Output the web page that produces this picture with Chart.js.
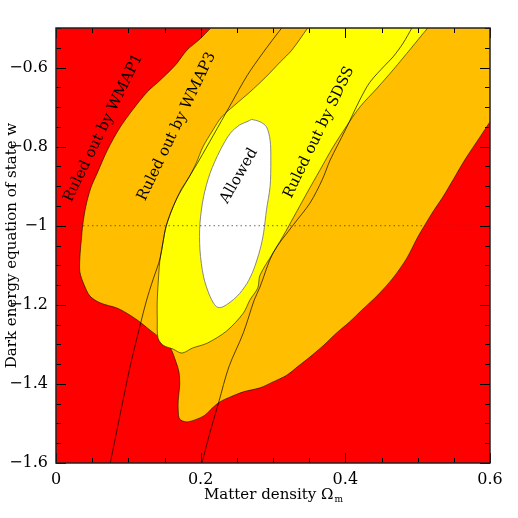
<!DOCTYPE html>
<html><head><meta charset="utf-8">
<script src="https://cdn.jsdelivr.net/npm/chart.js@4.4.1/dist/chart.umd.min.js"></script>
<style>html,body{margin:0;padding:0;background:#fff;}canvas{display:block;}</style>
</head><body>
<canvas id="c" width="518" height="518"></canvas>
<script>
// Axis ranges and tick labels
const xRange = [0, 0.6];
const yRange = [-1.6, -0.5];
const xTickLabels = ['0', '0.2', '0.4', '0.6'];
const yTickLabels = ['\u22121.6', '\u22121.4', '\u22121.2', '\u22121', '\u22120.8', '\u22120.6'];

// Region allowed by WMAP1 (orange + inner regions)
const wmap1Om = [0.225, 0.65, 0.62, 0.600, 0.586, 0.565, 0.549, 0.535, 0.521, 0.510, 0.500, 0.485, 0.466, 0.445, 0.423, 0.406, 0.388, 0.369, 0.351, 0.335, 0.319, 0.300, 0.282, 0.259, 0.241, 0.227, 0.216, 0.206, 0.192, 0.180, 0.171, 0.169, 0.169, 0.171, 0.170, 0.166, 0.158, 0.144, 0.130, 0.112, 0.095, 0.084, 0.061, 0.047, 0.039, 0.033, 0.033, 0.035, 0.037, 0.041, 0.048, 0.057, 0.071, 0.088, 0.106, 0.126, 0.144, 0.165, 0.181, 0.199, 0.214, 0.225];
const wmap1W  = [-0.48, -0.48, -0.68, -0.737, -0.776, -0.834, -0.884, -0.927, -0.965, -0.998, -1.029, -1.082, -1.132, -1.175, -1.213, -1.243, -1.271, -1.304, -1.332, -1.355, -1.378, -1.395, -1.410, -1.420, -1.433, -1.445, -1.461, -1.479, -1.491, -1.496, -1.489, -1.469, -1.441, -1.403, -1.370, -1.345, -1.309, -1.284, -1.264, -1.238, -1.218, -1.208, -1.195, -1.178, -1.150, -1.117, -1.082, -1.036, -0.998, -0.953, -0.905, -0.867, -0.809, -0.753, -0.707, -0.662, -0.632, -0.594, -0.556, -0.528, -0.500, -0.48];

// Region allowed by WMAP3 (yellow + allowed)
const wmap3Om = [0.360, 0.53, 0.514, 0.491, 0.466, 0.444, 0.420, 0.401, 0.383, 0.365, 0.347, 0.328, 0.314, 0.300, 0.282, 0.279, 0.268, 0.259, 0.236, 0.209, 0.189, 0.174, 0.162, 0.148, 0.141, 0.140, 0.140, 0.142, 0.144, 0.148, 0.152, 0.159, 0.166, 0.174, 0.184, 0.194, 0.203, 0.217, 0.229, 0.247, 0.268, 0.289, 0.310, 0.326, 0.348, 0.360];
const wmap3W  = [-0.47, -0.47, -0.500, -0.551, -0.606, -0.652, -0.700, -0.750, -0.801, -0.859, -0.917, -0.980, -1.026, -1.069, -1.125, -1.157, -1.188, -1.221, -1.266, -1.297, -1.309, -1.322, -1.312, -1.302, -1.284, -1.238, -1.188, -1.125, -1.082, -1.041, -1.003, -0.965, -0.935, -0.905, -0.877, -0.841, -0.801, -0.758, -0.725, -0.695, -0.662, -0.626, -0.586, -0.556, -0.500, -0.47];

// Allowed region (white)
const allowedOm = [0.2705, 0.282, 0.291, 0.296, 0.297, 0.296, 0.291, 0.287, 0.282, 0.273, 0.264, 0.250, 0.231, 0.222, 0.213, 0.204, 0.199, 0.199, 0.204, 0.213, 0.227, 0.241, 0.254, 0.264, 0.2705];
const allowedW  = [-0.731, -0.737, -0.750, -0.783, -0.834, -0.901, -0.960, -1.018, -1.061, -1.112, -1.146, -1.179, -1.205, -1.205, -1.179, -1.129, -1.061, -0.994, -0.927, -0.867, -0.809, -0.766, -0.745, -0.737, -0.731];

// Thin constraint curves
const curveAOm = [0.072, 0.075, 0.0885, 0.102, 0.113, 0.125, 0.134, 0.144, 0.152, 0.166, 0.184, 0.198, 0.217, 0.241, 0.264, 0.286, 0.312, 0.3235];
const curveAW  = [-1.625, -1.600, -1.479, -1.360, -1.276, -1.190, -1.137, -1.082, -1.003, -0.935, -0.877, -0.834, -0.773, -0.695, -0.621, -0.563, -0.500, -0.475];
const curveBOm = [0.198, 0.2018, 0.213, 0.225, 0.239, 0.259, 0.274, 0.282, 0.300, 0.328, 0.351, 0.368, 0.379, 0.400, 0.420, 0.434, 0.455, 0.466, 0.480, 0.492, 0.500];
const curveBW  = [-1.625, -1.600, -1.522, -1.446, -1.357, -1.271, -1.188, -1.155, -1.069, -0.998, -0.943, -0.884, -0.834, -0.758, -0.682, -0.637, -0.594, -0.573, -0.538, -0.500, -0.475];

// Cosmological constant reference
const wLambda = -1;

// Region labels
const labelTexts = ['Ruled out by WMAP1', 'Ruled out by WMAP3', 'Allowed', 'Ruled out by SDSS'];
const labelOm = [0.0654, 0.1669, 0.253, 0.3636];
const labelW = [-0.753, -0.749, -0.874, -0.764];
const labelAngle = [-64, -64.4, -60, -64.2];

const zip = (xs, ys) => xs.map((x, i) => ({x: x, y: ys[i]}));
const FONT = '"DejaVu Serif", serif';

const bgPlugin = {
  id: 'bg',
  beforeDatasetsDraw(chart) {
    const {ctx, chartArea: a} = chart;
    ctx.save();
    ctx.fillStyle = '#ff0000';
    ctx.fillRect(a.left, a.top, a.right - a.left, a.bottom - a.top);
    ctx.restore();
  }
};

const decoPlugin = {
  id: 'deco',
  afterDatasetsDraw(chart) {
    const {ctx, chartArea: a, scales: {x, y}} = chart;
    ctx.save();
    ctx.fillStyle = '#000';
    ctx.font = '15px ' + FONT;
    ctx.textAlign = 'center';
    ctx.textBaseline = 'middle';
    labelTexts.forEach((t, i) => {
      ctx.save();
      ctx.translate(x.getPixelForValue(labelOm[i]), y.getPixelForValue(labelW[i]));
      ctx.rotate(labelAngle[i] * Math.PI / 180);
      ctx.fillText(t, 0, 0);
      ctx.restore();
    });
    ctx.strokeStyle = '#000';
    ctx.lineWidth = 1;
    ctx.beginPath();
    x.ticks.forEach(t => {
      const p = Math.round(x.getPixelForValue(t.value)) + 0.5;
      const L = t.label ? 10 : 5;
      ctx.moveTo(p, a.bottom); ctx.lineTo(p, a.bottom - L);
      ctx.moveTo(p, a.top); ctx.lineTo(p, a.top + L);
    });
    y.ticks.forEach(t => {
      const p = Math.round(y.getPixelForValue(t.value)) + 0.5;
      const L = t.label ? 10 : 5;
      ctx.moveTo(a.left, p); ctx.lineTo(a.left + L, p);
      ctx.moveTo(a.right, p); ctx.lineTo(a.right - L, p);
    });
    ctx.stroke();
    ctx.lineWidth = 1.5;
    ctx.strokeStyle = '#222';
    ctx.strokeRect(a.left, a.top, a.right - a.left, a.bottom - a.top);
    ctx.restore();
  },
  afterDraw(chart) {
    const {ctx, chartArea: a} = chart;
    ctx.save();
    ctx.fillStyle = '#000';
    ctx.textBaseline = 'alphabetic';
    const main = 'Matter density \u03a9', sub = 'm';
    ctx.font = '15px ' + FONT;
    const w1 = ctx.measureText(main).width;
    ctx.font = '9px ' + FONT;
    const w2 = ctx.measureText(sub).width;
    const sx = (a.left + a.right) / 2 - (w1 + w2) / 2;
    ctx.textAlign = 'left';
    ctx.font = '15px ' + FONT;
    ctx.fillText(main, sx, a.bottom + 36);
    ctx.font = '9px ' + FONT;
    ctx.fillText(sub, sx + w1 + 1, a.bottom + 39);
    ctx.font = '15px ' + FONT;
    ctx.textAlign = 'center';
    ctx.translate(15.5, (a.top + a.bottom) / 2);
    ctx.rotate(-Math.PI / 2);
    ctx.fillText('Dark energy equation of state w', 0, 0);
    ctx.restore();
  }
};

const lineCommon = {showLine: true, pointRadius: 0, pointHoverRadius: 0, clip: 0};

new Chart(document.getElementById('c'), {
  type: 'scatter',
  data: {
    datasets: [
      Object.assign({}, lineCommon, {data: zip(wmap1Om, wmap1W), fill: 'shape', backgroundColor: '#ffbe00', borderColor: 'rgba(0,0,0,0.7)', borderWidth: 0.8, tension: 0.3, order: 6}),
      Object.assign({}, lineCommon, {data: zip(wmap3Om, wmap3W), fill: 'shape', backgroundColor: '#ffff00', borderColor: 'rgba(0,0,0,0.7)', borderWidth: 0.8, tension: 0.3, order: 5}),
      Object.assign({}, lineCommon, {data: zip(allowedOm, allowedW), fill: 'shape', backgroundColor: '#ffffff', borderColor: '#888', borderWidth: 1, tension: 0.3, order: 4}),
      Object.assign({}, lineCommon, {data: zip(curveAOm, curveAW), fill: false, borderColor: 'rgba(0,0,0,0.85)', borderWidth: 0.8, tension: 0.3, order: 3}),
      Object.assign({}, lineCommon, {data: zip(curveBOm, curveBW), fill: false, borderColor: 'rgba(0,0,0,0.85)', borderWidth: 0.8, tension: 0.3, order: 2}),
      Object.assign({}, lineCommon, {data: zip(xRange, [wLambda, wLambda]), fill: false, borderColor: 'rgba(70,70,70,0.8)', borderWidth: 1, borderDash: [1.5, 3], order: 1})
    ]
  },
  options: {
    responsive: false,
    devicePixelRatio: 1,
    animation: false,
    events: [],
    layout: {padding: {top: 28, right: 28, left: 0, bottom: 0}},
    plugins: {legend: {display: false}, tooltip: {enabled: false}},
    scales: {
      x: {
        type: 'linear', position: 'bottom', min: xRange[0], max: xRange[1],
        grid: {display: false, drawTicks: false}, border: {display: false},
        ticks: {
          stepSize: 0.05, autoSkip: false, maxRotation: 0, padding: 7, color: '#000',
          font: {family: FONT, size: 16},
          callback: v => { const k = v * 5; return Math.abs(k - Math.round(k)) < 1e-6 ? (xTickLabels[Math.round(k)] || '') : ''; }
        },
        afterFit: s => { s.height = 55; }
      },
      y: {
        type: 'linear', position: 'left', min: yRange[0], max: yRange[1],
        grid: {display: false, drawTicks: false}, border: {display: false},
        ticks: {
          stepSize: 0.05, autoSkip: false, padding: 8, color: '#000',
          font: {family: FONT, size: 16},
          callback: v => { const k = (v - yRange[0]) * 5; return Math.abs(k - Math.round(k)) < 1e-6 ? (yTickLabels[Math.round(k)] || '') : ''; }
        },
        afterFit: s => { s.width = 56; }
      }
    }
  },
  plugins: [bgPlugin, decoPlugin]
});
</script>
</body></html>
